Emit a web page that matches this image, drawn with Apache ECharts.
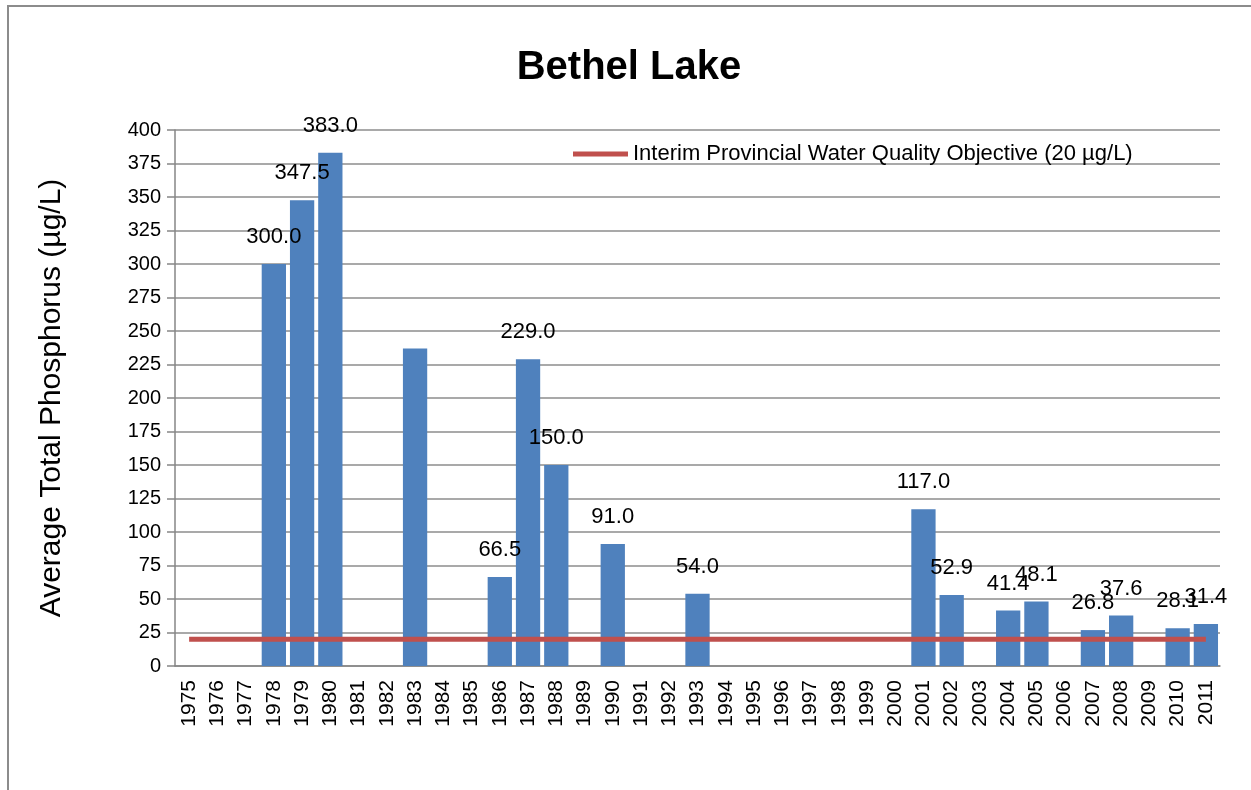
<!DOCTYPE html>
<html>
<head>
<meta charset="utf-8">
<script src="https://cdn.jsdelivr.net/npm/echarts@6/dist/echarts.min.js"></script>
<style>
  html, body { margin: 0; padding: 0; background: #fff; }
  #frame { position: absolute; left: 7px; top: 5px; width: 1244px; height: 785px;
           border-top: 2px solid #8c8c8c; border-left: 2px solid #8c8c8c; }
  #chart { position: absolute; left: 0; top: 0; width: 1251px; height: 790px; }
</style>
</head>
<body>
<div id="frame"></div>
<div id="chart"></div>
<script>
  // 年份
  var years = [];
  for (var y = 1975; y <= 2011; y++) years.push(String(y));
  // 平均总磷 (µg/L)，没有数据的年份为 null
  var phosphorus = [
    null, null, null, 300.0, 347.5, 383.0, null, null, 237.0, null,
    null, 66.5, 229.0, 150.0, null, 91.0, null, null, 54.0, null,
    null, null, null, null, null, null, 117.0, 52.9, null, 41.4,
    48.1, null, 26.8, 37.6, null, 28.1, 31.4
  ];
  var objectiveName = 'Interim Provincial Water Quality Objective (20 µg/L)';
  var objective = years.map(function () { return 20; });
  var noLabel = ['1983']; // 原图这一年没有数值标签

  var chart = echarts.init(document.getElementById('chart'));
  var font = 'Liberation Sans, Arial, sans-serif';
  var option = {
    animation: false,
    title: {
      text: 'Bethel Lake',
      left: 624, top: 43, textAlign: 'center',
      textStyle: { fontFamily: font, fontSize: 40, fontWeight: 'bold', color: '#000' }
    },
    legend: {
      data: [{ name: objectiveName, icon: 'rect' }],
      left: 568, top: 138,
      itemWidth: 55, itemHeight: 5, itemGap: 4,
      textStyle: { fontFamily: font, fontSize: 22, color: '#000' }
    },
    grid: { left: 175, right: 31, top: 130, bottom: 124 },
    xAxis: {
      type: 'category',
      data: years,
      axisLine: { lineStyle: { color: '#868686', width: 1.5 } },
      axisTick: { length: 8, lineStyle: { color: '#868686', width: 1.5 } },
      axisLabel: { rotate: 90, fontFamily: font, fontSize: 21, color: '#000', margin: 14, interval: 0 }
    },
    yAxis: {
      type: 'value',
      min: 0, max: 400, interval: 25,
      name: 'Average Total Phosphorus (µg/L)',
      nameLocation: 'middle', nameGap: 108, nameRotate: 90,
      nameTextStyle: { fontFamily: font, fontSize: 30, color: '#000' },
      axisLine: { show: true, lineStyle: { color: '#868686', width: 1.5 } },
      axisTick: { show: true, inside: false, length: 8, lineStyle: { color: '#868686', width: 1.5 } },
      splitLine: { lineStyle: { color: '#8c8c8c', width: 1.5 } },
      axisLabel: {
        fontFamily: font, fontSize: 20, color: '#000', margin: 14,
        formatter: function (v) { return v; }
      }
    },
    series: [{
      type: 'bar',
      data: phosphorus,
      barCategoryGap: '14%',
      itemStyle: { color: '#4F81BD' },
      label: {
        show: true, position: 'top', distance: 16,
        fontFamily: font, fontSize: 22, color: '#000',
        formatter: function (p) {
          if (p.value == null || noLabel.indexOf(p.name) >= 0) return '';
          return p.value.toFixed(1);
        }
      }
    }, {
      name: objectiveName,
      type: 'line',
      data: objective,
      symbol: 'none',
      lineStyle: { color: '#C0504D', width: 5 },
      itemStyle: { color: '#C0504D' },
      z: 5
    }]
  };
  chart.setOption(option);
</script>
</body>
</html>
